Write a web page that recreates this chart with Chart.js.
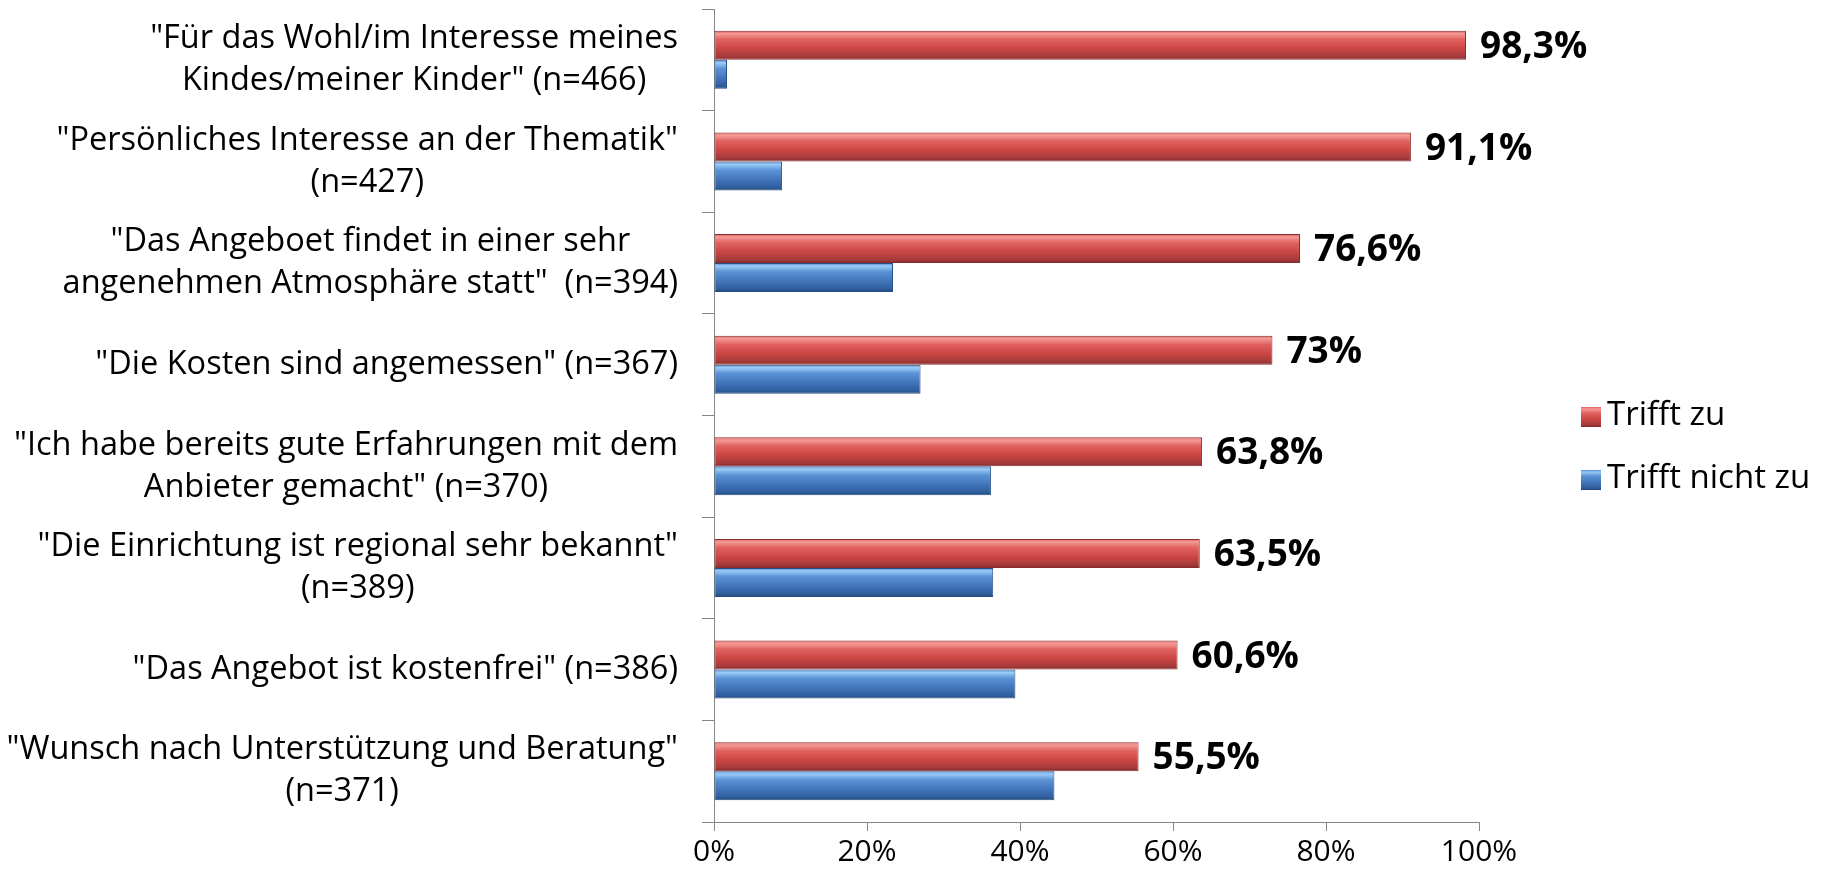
<!DOCTYPE html>
<html>
<head>
<meta charset="utf-8">
<script src="https://cdn.jsdelivr.net/npm/chart.js@4.4.0/dist/chart.umd.min.js"></script>
<style>
  html, body { margin: 0; padding: 0; background: #fff; }
  #wrap { width: 1826px; height: 877px; }
</style>
</head>
<body>
<div id="wrap"><canvas id="chart"></canvas></div>
<script>
// categories (each entry = lines of the label)
const categories = [
  ['"Für das Wohl/im Interesse meines', 'Kindes/meiner Kinder" (n=466)'],
  ['"Persönliches Interesse an der Thematik"', '(n=427)'],
  ['"Das Angeboet findet in einer sehr', 'angenehmen Atmosphäre statt"  (n=394)'],
  ['"Die Kosten sind angemessen" (n=367)'],
  ['"Ich habe bereits gute Erfahrungen mit dem', 'Anbieter gemacht" (n=370)'],
  ['"Die Einrichtung ist regional sehr bekannt"', '(n=389)'],
  ['"Das Angebot ist kostenfrei" (n=386)'],
  ['"Wunsch nach Unterstützung und Beratung"', '(n=371)']
];
const seriesNames = ['Trifft zu', 'Trifft nicht zu'];
const triffZu = [98.3, 91.1, 76.6, 73, 63.8, 63.5, 60.6, 55.5];
const triffNichtZu = [1.7, 8.9, 23.4, 27, 36.2, 36.5, 39.4, 44.5];
const xTicks = [0, 20, 40, 60, 80, 100];

const CAT_PCT = 0.57;
const FONT = '"Open Sans", sans-serif';

const redStops = [[0, '#d9605d'], [0.1, '#f59a97'], [0.3, '#e0625f'], [0.6, '#cc4744'], [0.9, '#a3393a'], [1, '#7a2826']];
const blueStops = [[0, '#4f86cc'], [0.1, '#9cccf7'], [0.3, '#5b93d6'], [0.6, '#4477bd'], [0.9, '#2f5e9e'], [1, '#1f4270']];

function barGradient(stops) {
  return (c) => {
    const chart = c.chart;
    const y = chart.scales && chart.scales.y;
    if (!y || c.type !== 'data' || !y.height) return stops[3][1];
    const center = y.getPixelForValue(c.dataIndex);
    const size = y.height / categories.length * CAT_PCT / 2;
    const top = c.datasetIndex === 0 ? center - size : center;
    const g = chart.ctx.createLinearGradient(0, top, 0, top + size);
    stops.forEach(([o, col]) => g.addColorStop(o, col));
    return g;
  };
}

// category labels: block right-aligned, lines centred in the block
const categoryLabels = {
  id: 'categoryLabels',
  afterDraw(chart) {
    const ctx = chart.ctx;
    const y = chart.scales.y;
    const right = chart.chartArea.left - 36;
    const lh = 42;
    ctx.save();
    ctx.font = '32.5px ' + FONT;
    ctx.fillStyle = '#000';
    ctx.textAlign = 'center';
    ctx.textBaseline = 'middle';
    chart.data.labels.forEach((lines, i) => {
      const w = Math.max(...lines.map(l => ctx.measureText(l).width));
      const cx = right - w / 2;
      const cy = y.getPixelForValue(i);
      lines.forEach((l, j) => {
        ctx.fillText(l, cx, cy + (j - (lines.length - 1) / 2) * lh);
      });
    });
    ctx.restore();
  }
};

// value labels on the "Trifft zu" bars
const valueLabels = {
  id: 'valueLabels',
  afterDatasetsDraw(chart) {
    const ctx = chart.ctx;
    const meta = chart.getDatasetMeta(0);
    ctx.save();
    ctx.font = 'bold 37px ' + FONT;
    ctx.fillStyle = '#000';
    ctx.textAlign = 'left';
    ctx.textBaseline = 'middle';
    meta.data.forEach((bar, i) => {
      const v = chart.data.datasets[0].data[i];
      ctx.fillText(String(v).replace('.', ',') + '%', bar.x + 14, bar.y + 2);
    });
    ctx.restore();
  }
};

// legend on the right
const sideLegend = {
  id: 'sideLegend',
  afterDraw(chart) {
    const ctx = chart.ctx;
    const x = 1581, ys = [416, 479], box = 20;
    ctx.save();
    ctx.font = '33px ' + FONT;
    ctx.textBaseline = 'middle';
    ctx.textAlign = 'left';
    [redStops, blueStops].forEach((stops, i) => {
      const top = ys[i] - box / 2 + 1;
      const g = ctx.createLinearGradient(0, top, 0, top + box);
      stops.forEach(([o, col]) => g.addColorStop(o, col));
      ctx.fillStyle = g;
      ctx.fillRect(x, top, box, box);
      ctx.fillStyle = '#000';
      ctx.fillText(chart.data.datasets[i].label, x + box + 6, ys[i]);
    });
    ctx.restore();
  }
};

new Chart(document.getElementById('chart'), {
  type: 'bar',
  data: {
    labels: categories,
    datasets: [
      {
        label: seriesNames[0],
        data: triffZu,
        backgroundColor: barGradient(redStops),
        borderColor: '#8a2d2b',
        borderWidth: 1,
        borderSkipped: false
      },
      {
        label: seriesNames[1],
        data: triffNichtZu,
        backgroundColor: barGradient(blueStops),
        borderColor: '#274f86',
        borderWidth: 1,
        borderSkipped: false
      }
    ]
  },
  options: {
    indexAxis: 'y',
    responsive: true,
    maintainAspectRatio: false,
    animation: false,
    datasets: { bar: { categoryPercentage: CAT_PCT, barPercentage: 1 } },
    layout: { padding: { left: 702, right: 347, top: 9, bottom: 4 } },
    plugins: {
      legend: { display: false },
      tooltip: { enabled: false }
    },
    scales: {
      y: {
        grid: { drawOnChartArea: false, drawTicks: true, tickLength: 12, color: '#868686' },
        border: { color: '#868686' },
        ticks: { display: false }
      },
      x: {
        min: 0,
        max: 100,
        afterBuildTicks: (s) => { s.ticks = xTicks.map(v => ({ value: v })); },
        grid: { drawOnChartArea: false, drawTicks: true, tickLength: 9, color: '#868686' },
        border: { color: '#868686' },
        ticks: {
          color: '#000',
          font: { family: FONT, size: 30 },
          padding: 3,
          maxRotation: 0,
          callback: (v) => v + '%'
        }
      }
    }
  },
  plugins: [categoryLabels, valueLabels, sideLegend]
});
</script>
</body>
</html>
